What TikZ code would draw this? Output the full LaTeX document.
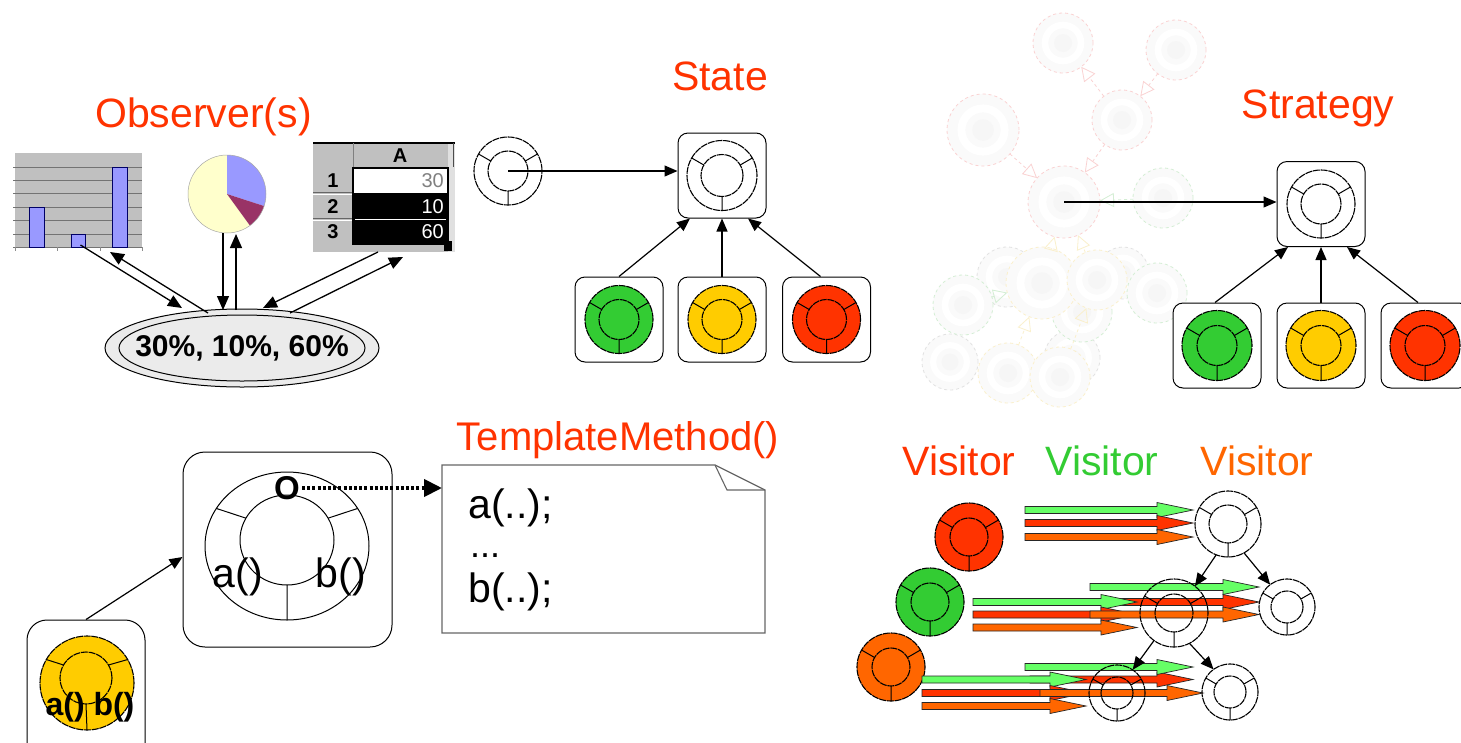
\documentclass[tikz,border=0pt]{standalone}
\usepackage{fontspec}
\setmainfont{Liberation Sans}
\usetikzlibrary{arrows.meta,calc,shapes.geometric}
\definecolor{tred}{HTML}{FF3300}
\definecolor{tgreen}{HTML}{33CC33}
\definecolor{torange}{HTML}{FF6600}
\definecolor{cgreen}{HTML}{33CC33}
\definecolor{cyellow}{HTML}{FFCC00}
\definecolor{cred}{HTML}{FF3300}
\definecolor{corange}{HTML}{FF6600}
\definecolor{agreen}{HTML}{66FF66}
\definecolor{barblue}{HTML}{9999FF}
\definecolor{piepurple}{HTML}{993366}
\definecolor{pieyellow}{HTML}{FFFFCC}
\definecolor{xlgray}{HTML}{C0C0C0}
\definecolor{fpink}{HTML}{FAD2D2}
\definecolor{fgreen}{HTML}{D4EED4}
\definecolor{fyellow}{HTML}{FAF0CC}
\definecolor{fgray}{HTML}{E2E2E2}
\tikzset{
  title/.style={font=\fontsize{41}{48}\selectfont, anchor=base, inner sep=0pt},
  ringo/.style={circle, draw=black, line width=1.1pt, inner sep=0pt, outer sep=0pt, dash pattern=on 7pt off 0.8pt},
  ringi/.style={circle, draw=black, line width=1.1pt, inner sep=0pt, outer sep=0pt, dash pattern=on 7pt off 0.8pt},
  ringl/.style={draw=black, line width=1pt},
  cbox/.style={rectangle, draw=black, line width=1pt, rounded corners=10pt, minimum width=88pt, minimum height=85pt, inner sep=0pt, fill=white},
  con/.style={draw=black, line width=1.2pt, -{Triangle[length=13pt,width=11pt]}},
  obsarr/.style={draw=black, line width=1.3pt, -{Triangle[length=14pt,width=12pt]}},
  fadec/.style={circle, inner sep=0pt, outer sep=0pt, fill=white!98!black, line width=0.8pt, dashed},
  fadearr/.style={draw=fpink, line width=0.8pt, dashed, -{Triangle[open, length=14pt, width=14pt]}},
  txt/.style={inner sep=0pt},
}
\newcommand\ringnode[5]{%
  \node[ringo, minimum size=#3*2pt, fill=#5] (#1) at (#2) {};
  \node[ringi, minimum size=#4*2pt] (#1-i) at (#1.center) {};
  \draw[ringl] (#1-i.150) -- (#1.150) (#1-i.30) -- (#1.30) (#1-i.270) -- (#1.270);
}
\newcommand\fadenode[4]{%
  \node[fadec, draw=#4, minimum size=#3*2pt] (#1) at (#2) {};
  \draw[line width=#3*0.22pt, white] (#1.center) circle[radius=#3*0.6pt];
  \fill[white!96.5!black] (#1.center) circle[radius=#3*0.3pt];
}
\newcommand\blockarr[4]{%
  \filldraw[fill=#1, draw=black!85, line width=0.7pt]
    (#2,#4-3.5) -- (#3-36,#4-3.5) -- (#3-36,#4-7.5) -- (#3,#4) -- (#3-36,#4+7.5) -- (#3-36,#4+3.5) -- (#2,#4+3.5) -- cycle;
}
\begin{document}
\begin{tikzpicture}[x=1pt,y=-1pt]
\useasboundingbox (0,0) rectangle (1461,742);
\fill[white] (0,0) rectangle (1461,742);

% ---------- faded background graph ----------
\fadenode{f7}{1007,277}{30}{fgray}
\fadenode{f10}{1123,273}{26}{fgray}
\fadenode{f14}{950,362}{28}{fgray}
\fadenode{f17}{1072,358}{28}{fgray}
\fadenode{f11}{963,305}{30}{fgreen}
\fadenode{f12}{1157,293}{30}{fgreen}
\fadenode{f13}{1082,312}{30}{fgreen}
\fadenode{f6}{1163,198}{30}{fgreen}
\fadenode{f8}{1042,283}{36}{fyellow}
\fadenode{f9}{1097,280}{30}{fyellow}
\fadenode{f15}{1008,373}{30}{fyellow}
\fadenode{f16}{1060,377}{30}{fyellow}
\fadenode{f1}{1063,43}{30}{fpink}
\fadenode{f2}{1176,50}{30}{fpink}
\fadenode{f3}{983,130}{36}{fpink}
\fadenode{f4}{1122,120}{30}{fpink}
\fadenode{f5}{1064,202}{36}{fpink}
\draw[fadearr] (f4) -- (f1);
\draw[fadearr] (f2) -- (f4);
\draw[fadearr] (f3) -- (f5);
\draw[fadearr] (f4) -- (f5);
\draw[fadearr, draw=fgreen] (f6) -- (f5);
\draw[fadearr, draw=fyellow] (f8) -- (f5);
\draw[fadearr, draw=fyellow] (f9) -- (f5);
\draw[fadearr, draw=fyellow] (f15) -- (f8);
\draw[fadearr, draw=fyellow] (f16) -- (f9);
\draw[fadearr, draw=fgreen] (f11) -- (f8);

% ---------- Observer ----------
\node[title, text=tred] (tobs) at (203.5,127) {Observer(s)};
\node[rectangle, fill=xlgray, minimum width=127pt, minimum height=94pt, inner sep=0pt, outer sep=0pt] (bar) at (78.5,200) {};
\foreach \yy in {167,180,193,207,220,234,247} \draw[black!55, line width=0.9pt] (13,\yy) -- (142,\yy);
\foreach \xx in {15,57,100,142} \draw[black!45, line width=0.8pt] (\xx,247) -- (\xx,251);
\filldraw[fill=barblue, draw=blue!40!black, line width=0.6pt] (29,207) rectangle (44,247);
\filldraw[fill=barblue, draw=blue!40!black, line width=0.6pt] (71,234) rectangle (85,247);
\filldraw[fill=barblue, draw=blue!40!black, line width=0.6pt] (112,167) rectangle (127,247);

\node[circle, minimum size=78pt, inner sep=0pt, outer sep=0pt] (pie) at (227,194) {};
\begin{scope}[shift={(pie.center)}, x=1pt, y=1pt]
  \fill[pieyellow] (0,0) -- (90:39) arc[start angle=90, end angle=306, radius=39] -- cycle;
  \fill[barblue] (0,0) -- (90:39) arc[start angle=90, end angle=-18, radius=39] -- cycle;
  \fill[piepurple] (0,0) -- (-18:39) arc[start angle=-18, end angle=-54, radius=39] -- cycle;
  \draw[black!35, line width=0.5pt] (0,0) circle[radius=39];
\end{scope}

\node[rectangle, minimum width=142pt, minimum height=110pt, inner sep=0pt, outer sep=0pt] (sheet) at (384,197) {};
\fill[xlgray] (313,143) rectangle (448,167);
\fill[xlgray] (313,167) rectangle (353,252);
\fill[xlgray] (313,244) rectangle (448,252);
\fill[black!12] (448,143) rectangle (455,252);
\draw[black, line width=1.2pt] (313,143) -- (455,143);
\draw[black!70, line width=1pt] (453,143) -- (453,167);
\draw[black!50, line width=0.8pt] (353,143) -- (353,167);
\draw[black!60, line width=0.8pt] (313,192.5) -- (353,192.5);
\draw[white, line width=1pt] (313,194.5) -- (353,194.5);
\draw[black!60, line width=0.8pt] (313,218.5) -- (353,218.5);
\draw[white, line width=1pt] (313,220.5) -- (353,220.5);
\fill[white] (353,168) rectangle (448,193);
\fill[black] (353,193) rectangle (448,244);
\draw[white, line width=0.8pt] (355,219.5) -- (446,219.5);
\draw[black, line width=2pt] (353,168) rectangle (448,244);
\fill[black] (444,241) rectangle (452,251);
\node[txt, font=\bfseries\fontsize{20}{20}\selectfont] (hA) at (400,156) {A};
\node[txt, font=\bfseries\fontsize{20}{20}\selectfont] (r1) at (333,181) {1};
\node[txt, font=\bfseries\fontsize{20}{20}\selectfont] (r2) at (333,207) {2};
\node[txt, font=\bfseries\fontsize{20}{20}\selectfont] (r3) at (333,232) {3};
\node[txt, anchor=east, text=black!50, font=\fontsize{20}{20}\selectfont] (v1) at (444,181) {30};
\node[txt, anchor=east, text=white, font=\fontsize{20}{20}\selectfont] (v2) at (444,207) {10};
\node[txt, anchor=east, text=white, font=\fontsize{20}{20}\selectfont] (v3) at (444,232) {60};

\node[ellipse, draw=black, line width=1pt, fill=black!8, minimum width=274pt, minimum height=78pt, inner sep=0pt] (ell) at (242,348) {};
\draw[black, line width=1pt] (ell.center) ellipse[x radius=123pt, y radius=33pt];
\node[txt, font=\bfseries\fontsize{30}{30}\selectfont] (elltext) at (ell.center) {30\%, 10\%, 60\%};

\draw[obsarr] ($(bar.south)+(2pt,2pt)$) -- ($(ell.center)+(-60pt,40pt)$);
\draw[obsarr] ($(ell.center)+(-34pt,35pt)$) -- ($(bar.south)+(31.5pt,-5pt)$);
\draw[obsarr] ($(pie.south)+(-4pt,0pt)$) -- ($(ell.center)+(-19pt,38pt)$);
\draw[obsarr] ($(ell.center)+(-6pt,38pt)$) -- ($(pie.south)+(9pt,-1pt)$);
\draw[obsarr] ($(sheet.south)+(-6pt,0pt)$) -- ($(ell.center)+(21pt,40pt)$);
\draw[obsarr] ($(ell.center)+(48pt,35pt)$) -- ($(sheet.south)+(19pt,-5pt)$);

% ---------- State ----------
\node[title, text=tred] (tstate) at (720,90) {State};
\ringnode{sl}{508,171}{34}{20}{white}
\node[cbox] (sm) at (722,175.5) {};
\ringnode{smr}{sm.center}{35}{21}{white}
\node[cbox] (sg) at (619,319.5) {};
\node[cbox] (sy) at (722,319.5) {};
\node[cbox] (sr) at (826.5,319.5) {};
\ringnode{sgr}{sg.center}{34}{20}{cgreen}
\ringnode{syr}{sy.center}{34}{20}{cyellow}
\ringnode{srr}{sr.center}{34}{20}{cred}
\draw[con] (sl.center) -- (sl.center -| sm.west);
\draw[con] (sg.north) -- ($(sm.south)+(-32pt,0pt)$);
\draw[con] (sy.north) -- (sm.south);
\draw[con] ($(sr.north)+(-6pt,0pt)$) -- ($(sm.south)+(26pt,0pt)$);

% ---------- Strategy ----------
\node[title, text=tred] (tstrat) at (1318,118) {Strategy};
\node[cbox] (gm) at (1321,204) {};
\ringnode{gmr}{gm.center}{34}{20}{white}
\node[cbox] (gg) at (1217,345.5) {};
\node[cbox] (gy) at (1321,345.5) {};
\node[cbox] (gr) at (1425,345.5) {};
\ringnode{ggr}{gg.center}{35}{20}{cgreen}
\ringnode{gyr}{gy.center}{35}{20}{cyellow}
\ringnode{grr}{gr.center}{35}{20}{cred}
\draw[con] (f5.center) -- (f5.center -| gm.west);
\draw[con] ($(gg.north)+(-2pt,0pt)$) -- ($(gm.south)+(-33pt,0pt)$);
\draw[con] (gy.north) -- (gm.south);
\draw[con] ($(gr.north)+(-7pt,0pt)$) -- ($(gm.south)+(26pt,0pt)$);

% ---------- Template Method ----------
\node[title, text=tred, font=\fontsize{40}{48}\selectfont] (ttm) at (618,450) {TemplateMethod()};
\node[rectangle, draw=black, line width=1pt, rounded corners=22pt, minimum width=209pt, minimum height=195pt, inner sep=0pt] (tm) at (287.5,549.5) {};
\node[ellipse, draw, line width=1pt, minimum width=164pt, minimum height=148pt, inner sep=0pt, outer sep=0pt] (tmr) at (287,546) {};
\node[ellipse, draw, line width=1pt, minimum width=94pt, minimum height=90pt, inner sep=0pt, outer sep=0pt] (tmi) at (287,540) {};
\draw[ringl] (tmi.152) -- (tmr.152) (tmi.28) -- (tmr.28) (tmi.270) -- (tmr.270);
\node[txt, font=\bfseries\fontsize{33}{33}\selectfont] (tmo) at (287,488) {O};
\node[txt, font=\fontsize{41}{41}\selectfont] (tma) at (238,577) {a()};
\node[txt, font=\fontsize{41}{41}\selectfont] (tmb) at (341,577) {b()};

\node[rectangle, minimum width=323pt, minimum height=168pt, inner sep=0pt, outer sep=0pt] (note) at (603.5,549) {};
\draw[black!60, line width=1.3pt, fill=white] (note.south west) -- (note.north west) -- ($(note.north east)+(-50pt,0pt)$) -- ($(note.north east)+(0pt,-25pt)$) -- (note.south east) -- cycle;
\draw[black!60, line width=1.1pt] ($(note.north east)+(-50pt,0pt)$) -- ($(note.north east)+(-38pt,-25pt)$) -- ($(note.north east)+(0pt,-25pt)$);
\node[txt, anchor=base west, font=\fontsize{41}{41}\selectfont] (na) at (468,518) {a(..);};
\node[txt, anchor=base west, font=\fontsize{36}{36}\selectfont] (nd) at (470,557) {...};
\node[txt, anchor=base west, font=\fontsize{41}{41}\selectfont] (nb) at (468,602) {b(..);};
\draw[line width=4pt, dash pattern=on 3pt off 2.2pt, shorten <=2pt, -{Triangle[length=18pt,width=17pt]}] (tmo.east) -- (tmo.east -| note.west);

\node[rectangle, draw=black, line width=1pt, rounded corners=20pt, minimum width=118pt, minimum height=150pt, inner sep=0pt] (ty) at (86,695) {};
\node[ringo, minimum size=94pt, fill=cyellow] (tyr) at (87,683) {};
\node[ringi, minimum size=52pt] (tyi) at (86,678) {};
\draw[ringl] (tyi.150) -- (tyr.150) (tyi.30) -- (tyr.30) (tyi.270) -- (tyr.270);
\node[txt, font=\bfseries\fontsize{32}{32}\selectfont] (tyt) at (90,707) {a() b()};
\draw[con] (ty.north) -- ($(tm.west)+(0pt,-7.5pt)$);

% ---------- Visitor ----------
\node[title, text=tred] (tv1) at (959,475) {Visitor};
\node[title, text=tgreen] (tv2) at (1102,475) {Visitor};
\node[title, text=torange] (tv3) at (1257,475) {Visitor};
\ringnode{vr}{969,537}{34}{19}{cred}
\ringnode{vg}{930,602}{34}{19}{cgreen}
\ringnode{vo}{891,667}{34}{19}{corange}

\blockarr{agreen}{1025}{1193}{510}
\blockarr{cred}{1025}{1193}{523}
\blockarr{corange}{1025}{1193}{537}
\blockarr{cred}{1090}{1259}{602}
\blockarr{agreen}{973}{1137}{602}
\blockarr{cred}{973}{1137}{614.5}
\blockarr{corange}{973}{1137}{627.5}
\blockarr{agreen}{1090}{1259}{587}
\blockarr{corange}{1090}{1259}{614.5}
\blockarr{cred}{1030}{1193}{679.5}
\blockarr{agreen}{922}{1086}{679.5}
\blockarr{cred}{922}{1086}{693}
\blockarr{corange}{922}{1086}{706}
\blockarr{agreen}{1025}{1193}{667}
\blockarr{corange}{1040}{1203}{693}

\ringnode{wt}{1228,524}{33}{19}{none}
\ringnode{wml}{1174,613}{34}{19}{none}
\ringnode{wmr}{1287,607}{28}{16}{none}
\ringnode{wbl}{1117,693}{28}{16}{none}
\ringnode{wbr}{1230,692}{28}{16}{none}
\draw[con] (wt.249) -- (wml.52);
\draw[con] (wt.299) -- (wmr.127);
\draw[con] (wml.234) -- (wbl.56);
\draw[con] (wml.297) -- (wbr.126);
\end{tikzpicture}
\end{document}
